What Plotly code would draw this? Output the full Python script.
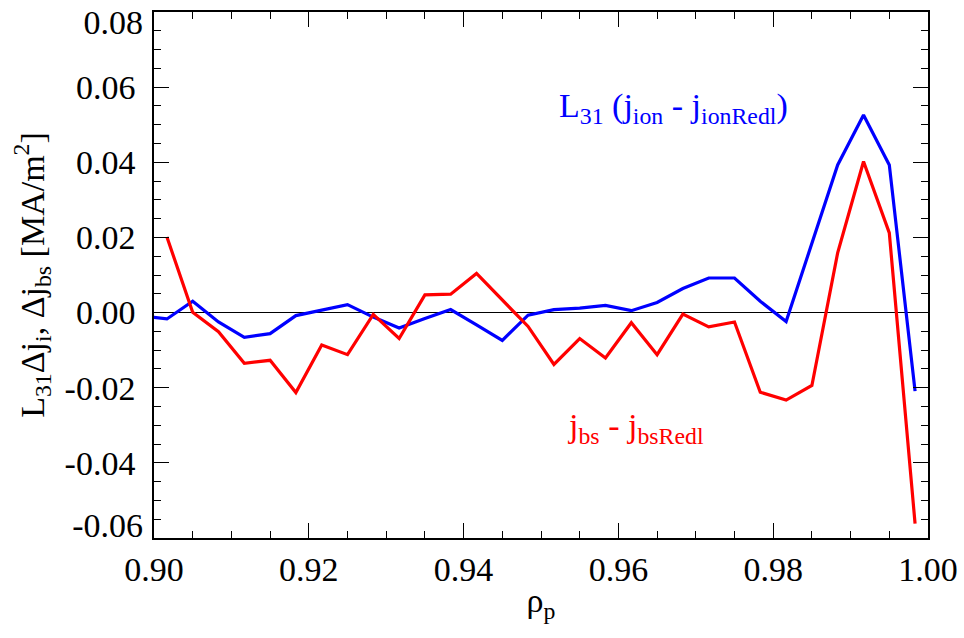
import numpy as np
import plotly.graph_objects as go

# Radial grid: bin centres of 30 bins across 0.90-1.00, plus one bin below 0.90
rho_p = [0.89833, 0.90167, 0.90500, 0.90833, 0.91167, 0.91500, 0.91833, 0.92167,
         0.92500, 0.92833, 0.93167, 0.93500, 0.93833, 0.94167, 0.94500, 0.94833,
         0.95167, 0.95500, 0.95833, 0.96167, 0.96500, 0.96833, 0.97167, 0.97500,
         0.97833, 0.98167, 0.98500, 0.98833, 0.99167, 0.99500, 0.99833]

# L31 (j_ion - j_ionRedl)
d_ion = [-0.0009, -0.0017, 0.0030, -0.0025, -0.0066, -0.0056, -0.0008, 0.0006,
         0.0021, -0.0012, -0.0041, -0.0016, 0.0008, -0.0033, -0.0074, -0.0007,
         0.0008, 0.0012, 0.0019, 0.0005, 0.0027, 0.0064, 0.0092, 0.0092,
         0.0030, -0.0024, 0.0185, 0.0393, 0.0526, 0.0393, -0.0209]

# j_bs - j_bsRedl (no value in the bin below 0.90)
d_bs = [None, 0.0201, 0.0001, -0.0051, -0.0135, -0.0127, -0.0213, -0.0086,
        -0.0112, -0.0005, -0.0069, 0.0047, 0.0049, 0.0104, 0.0035, -0.0037,
        -0.0138, -0.0069, -0.0121, -0.0027, -0.0112, -0.0004, -0.0038, -0.0025,
        -0.0212, -0.0233, -0.0194, 0.0159, 0.0402, 0.0212, -0.0562]

x_ticks = [0.90, 0.92, 0.94, 0.96, 0.98, 1.00]
x_ticktext = ["0.90", "0.92", "0.94", "0.96", "0.98", "1.00"]
y_ticks = [-0.06, -0.04, -0.02, 0.00, 0.02, 0.04, 0.06, 0.08]
y_ticktext = ["-0.06", "-0.04", "-0.02", "0.00", "0.02", "0.04", "0.06", "0.08"]

FONT = "Liberation Serif"
Y_RANGE = [-0.0600001, 0.0800001]
TICKFONT = dict(family=FONT, size=34, color="black")

fig = go.Figure()
fig.add_trace(go.Scatter(x=rho_p, y=d_ion, mode="lines",
                         line=dict(color="#0000FF", width=3.2), showlegend=False))
fig.add_trace(go.Scatter(x=rho_p, y=d_bs, mode="lines",
                         line=dict(color="#FF0000", width=3.2), showlegend=False))
# empty traces so the overlay axes carrying the end labels are drawn
fig.add_trace(go.Scatter(x=[], y=[], yaxis="y2", showlegend=False, hoverinfo="skip"))
fig.add_trace(go.Scatter(x=[], y=[], yaxis="y3", showlegend=False, hoverinfo="skip"))

fig.add_annotation(x=0.9521, y=0.0545, xref="x", yref="y", xanchor="left", yanchor="middle",
                   text="L<sub>31</sub> (j<sub>ion</sub> - j<sub>ionRedl</sub>)",
                   showarrow=False, font=dict(family=FONT, size=34, color="#0000FF"))
fig.add_annotation(x=0.9532, y=-0.0308, xref="x", yref="y", xanchor="left", yanchor="middle",
                   text="j<sub>bs</sub> - j<sub>bsRedl</sub>",
                   showarrow=False, font=dict(family=FONT, size=34, color="#FF0000"))

axis_common = dict(
    showline=True, linecolor="black", linewidth=1.5, mirror="ticks",
    ticks="inside", ticklen=15, tickwidth=1, tickcolor="black",
    showgrid=False, automargin=False, tickfont=TICKFONT,
)

fig.update_xaxes(range=[0.8999999, 1.0000001], tickmode="array", tickvals=x_ticks, ticktext=x_ticktext,
                 minor=dict(ticks="inside", ticklen=7, dtick=0.005, tickcolor="black", showgrid=False),
                 zeroline=False, ticklabelstandoff=0, ticklabeloverflow="allow",
                 title=dict(text="ρ<sub>p</sub>", font=dict(family=FONT, size=34, color="black"),
                            standoff=2),
                 **axis_common)

# inner labels on the main axis; the two end labels sit on overlay axes, nudged inward
y_end_vals = [y_ticks[0], y_ticks[-1]]
inner_text = ["" if v in y_end_vals else t for v, t in zip(y_ticks, y_ticktext)]

end_axis = dict(range=Y_RANGE, overlaying="y", side="left", anchor="x", tickmode="array",
                ticks="", showline=False, showgrid=False, zeroline=False, automargin=False,
                ticklabeloverflow="allow", ticklabelstandoff=10, tickfont=TICKFONT)

fig.update_layout(
    yaxis=dict(range=Y_RANGE, tickmode="array", tickvals=y_ticks, ticktext=inner_text,
               minor=dict(ticks="inside", ticklen=7, dtick=0.005, tickcolor="black", showgrid=False),
               zeroline=True, zerolinecolor="black", zerolinewidth=1.2, ticklabelstandoff=10,
               title=dict(text="L<sub>31</sub>Δj<sub>i</sub>, Δj<sub>bs</sub> [MA/m<sup>2</sup>]",
                          font=dict(family=FONT, size=34, color="black"), standoff=10),
               **axis_common),
    yaxis2=dict(tickvals=[y_ticks[-1]], ticktext=[y_ticktext[-1]], ticklabelshift=10, **end_axis),
    yaxis3=dict(tickvals=[y_ticks[0]], ticktext=[y_ticktext[0]], ticklabelshift=-13, **end_axis),
    width=964, height=638,
    margin=dict(l=154, r=36, t=12, b=100),
    paper_bgcolor="white", plot_bgcolor="white",
    font=dict(family=FONT),
)

fig.write_html("out.html")
